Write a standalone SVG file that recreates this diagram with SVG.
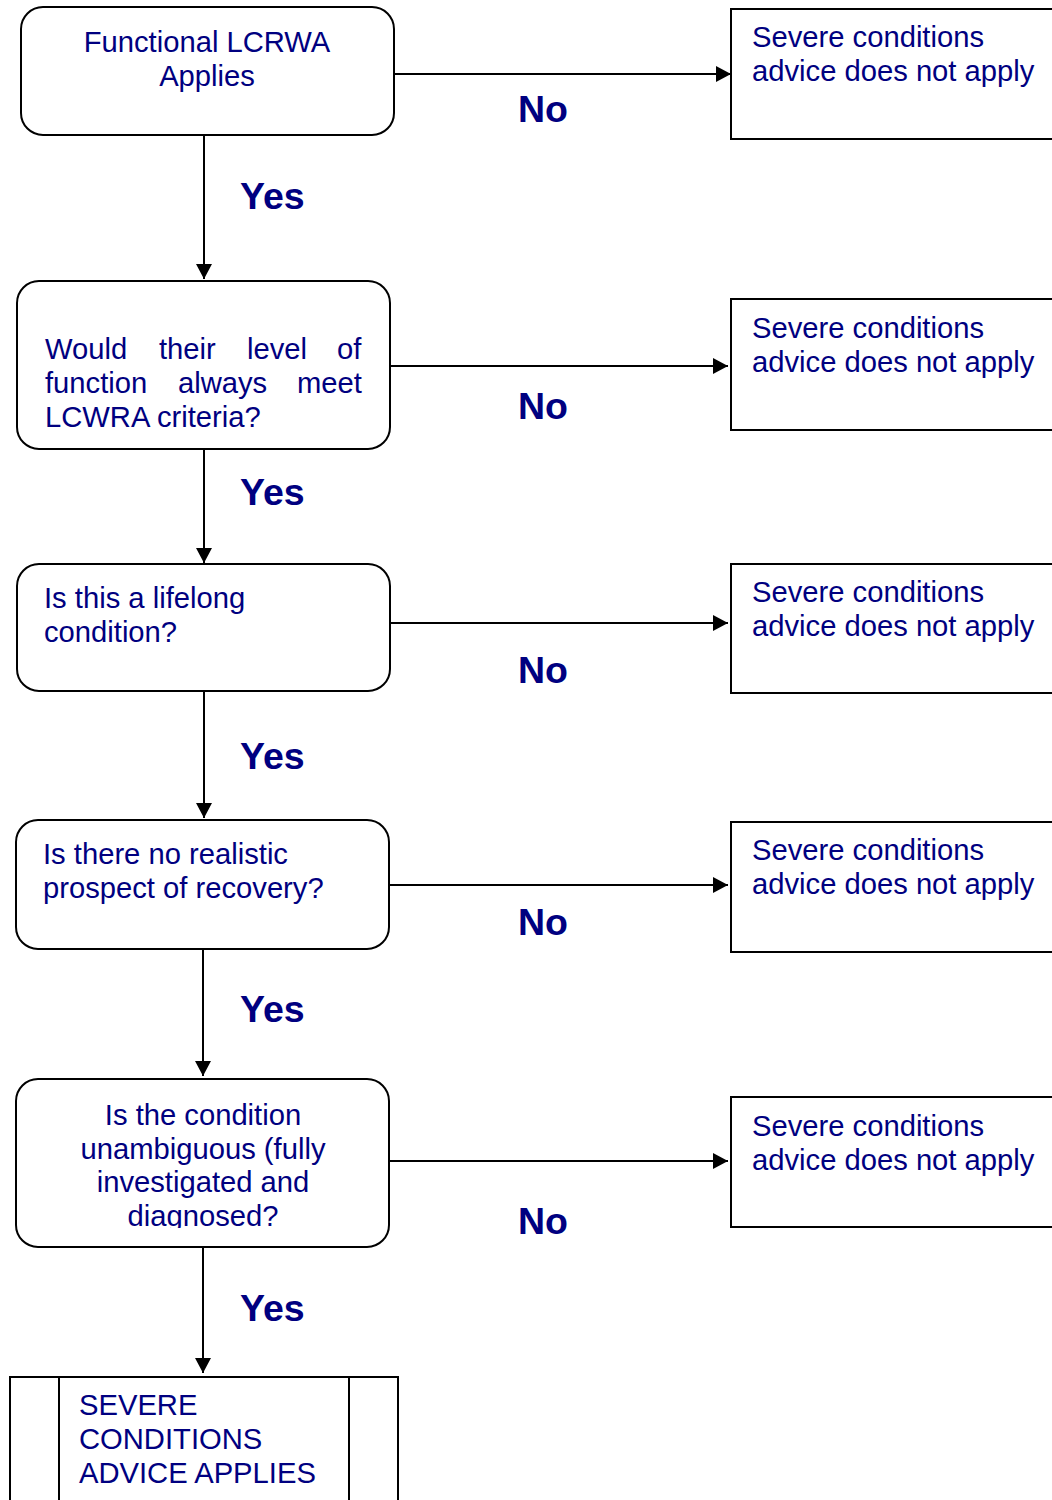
<svg xmlns="http://www.w3.org/2000/svg" width="1052" height="1500" viewBox="0 0 1052 1500">
<style>
.box{fill:#fff;stroke:#000;stroke-width:2}
.t{font-family:"Liberation Sans",Arial,sans-serif;font-size:29.2px;fill:#000080}
.c{text-anchor:middle}
.lbl{font-family:"Liberation Sans",Arial,sans-serif;font-size:37.5px;font-weight:bold;fill:#000080}
.con{stroke:#000;stroke-width:2;fill:none;marker-end:url(#ah)}
</style>
<defs>
<marker id="ah" markerUnits="userSpaceOnUse" markerWidth="15" markerHeight="16" refX="15" refY="8" orient="auto">
<path d="M0,0 L15,8 L0,16 Z" fill="#000"/>
</marker>
<clipPath id="clip5"><rect x="16" y="1079" width="373" height="149"/></clipPath>
</defs>
<rect width="1052" height="1500" fill="#fff"/>
<g id="connectors">
<line class="con" x1="394" y1="74" x2="731" y2="74"/>
<line class="con" x1="204" y1="135" x2="204" y2="279"/>
<line class="con" x1="390" y1="366" x2="728" y2="366"/>
<line class="con" x1="204" y1="449" x2="204" y2="563"/>
<line class="con" x1="390" y1="623" x2="728" y2="623"/>
<line class="con" x1="204" y1="691" x2="204" y2="818"/>
<line class="con" x1="389" y1="885" x2="728" y2="885"/>
<line class="con" x1="203" y1="949" x2="203" y2="1076"/>
<line class="con" x1="389" y1="1161" x2="728" y2="1161"/>
<line class="con" x1="203" y1="1247" x2="203" y2="1373"/>
<text class="lbl" x="543" y="122" text-anchor="middle">No</text>
<text class="lbl" x="240" y="209">Yes</text>
<text class="lbl" x="543" y="419" text-anchor="middle">No</text>
<text class="lbl" x="240" y="505">Yes</text>
<text class="lbl" x="543" y="683" text-anchor="middle">No</text>
<text class="lbl" x="240" y="769">Yes</text>
<text class="lbl" x="543" y="935" text-anchor="middle">No</text>
<text class="lbl" x="240" y="1022">Yes</text>
<text class="lbl" x="543" y="1234" text-anchor="middle">No</text>
<text class="lbl" x="240" y="1321">Yes</text>
</g>
<g id="n1">
<rect class="box" x="21" y="7" width="373" height="128" rx="22"/>
<text class="t c" x="207" y="52">Functional LCRWA</text>
<text class="t c" x="207" y="86">Applies</text>
</g>
<g id="r1">
<rect class="box" x="731" y="9" width="330" height="130"/>
<text class="t" x="752" y="47">Severe conditions</text>
<text class="t" x="752" y="81">advice does not apply</text>
</g>
<g id="n2">
<rect class="box" x="17" y="281" width="373" height="168" rx="22"/>
<text class="t" y="359"><tspan x="45">Would</tspan><tspan x="159">their</tspan><tspan x="247">level</tspan><tspan x="337">of</tspan></text>
<text class="t" y="393"><tspan x="45">function</tspan><tspan x="178">always</tspan><tspan x="297">meet</tspan></text>
<text class="t" x="45" y="427">LCWRA criteria?</text>
</g>
<g id="r2">
<rect class="box" x="731" y="299" width="330" height="131"/>
<text class="t" x="752" y="338">Severe conditions</text>
<text class="t" x="752" y="372">advice does not apply</text>
</g>
<g id="n3">
<rect class="box" x="17" y="564" width="373" height="127" rx="22"/>
<text class="t" x="44" y="608">Is this a lifelong</text>
<text class="t" x="44" y="642">condition?</text>
</g>
<g id="r3">
<rect class="box" x="731" y="564" width="330" height="129"/>
<text class="t" x="752" y="602">Severe conditions</text>
<text class="t" x="752" y="636">advice does not apply</text>
</g>
<g id="n4">
<rect class="box" x="16" y="820" width="373" height="129" rx="22"/>
<text class="t" x="43" y="864">Is there no realistic</text>
<text class="t" x="43" y="898">prospect of recovery?</text>
</g>
<g id="r4">
<rect class="box" x="731" y="822" width="330" height="130"/>
<text class="t" x="752" y="860">Severe conditions</text>
<text class="t" x="752" y="894">advice does not apply</text>
</g>
<g id="n5">
<rect class="box" x="16" y="1079" width="373" height="168" rx="22"/>
<g clip-path="url(#clip5)">
<text class="t c" x="203" y="1125">Is the condition</text>
<text class="t c" x="203" y="1159">unambiguous (fully</text>
<text class="t c" x="203" y="1192">investigated and</text>
<text class="t c" x="203" y="1226">diagnosed?</text>
</g>
</g>
<g id="r5">
<rect class="box" x="731" y="1097" width="330" height="130"/>
<text class="t" x="752" y="1136">Severe conditions</text>
<text class="t" x="752" y="1170">advice does not apply</text>
</g>
<g id="n6">
<rect class="box" x="10" y="1377" width="388" height="140"/>
<line x1="59" y1="1377" x2="59" y2="1517" stroke="#000" stroke-width="2"/>
<line x1="349" y1="1377" x2="349" y2="1517" stroke="#000" stroke-width="2"/>
<text class="t" x="79" y="1415">SEVERE</text>
<text class="t" x="79" y="1449">CONDITIONS</text>
<text class="t" x="79" y="1483">ADVICE APPLIES</text>
</g>
</svg>
